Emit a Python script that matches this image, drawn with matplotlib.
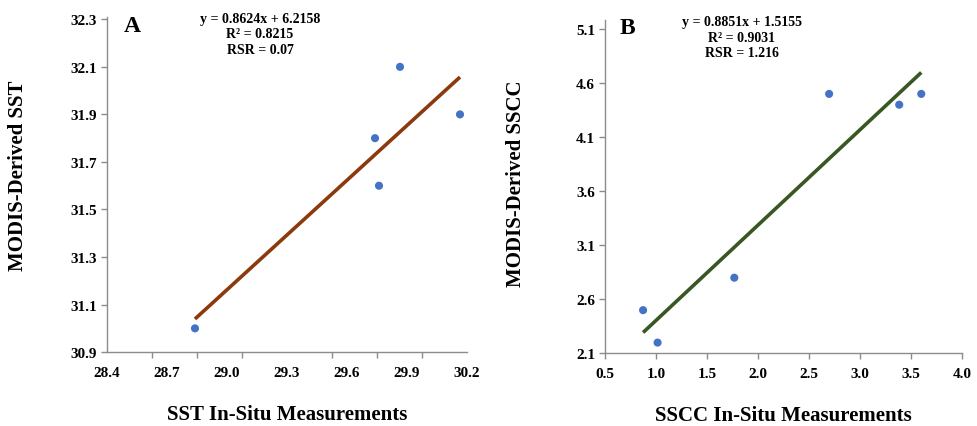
import matplotlib
matplotlib.use('Agg')
import matplotlib.pyplot as plt
import numpy as np

# Datos
sst_insitu = [28.84, 29.74, 29.76, 29.865, 30.165]
sst_modis = [31.0, 31.8, 31.6, 32.1, 31.9]
sscc_insitu = [0.875, 1.017, 1.768, 2.696, 3.382, 3.598]
sscc_modis = [2.5, 2.2, 2.8, 4.5, 4.4, 4.5]

sst_xticks = [28.4, 28.7, 29.0, 29.3, 29.6, 29.9, 30.2]
sst_yticks = [30.9, 31.1, 31.3, 31.5, 31.7, 31.9, 32.1, 32.3]
sscc_xticks = [0.5, 1.0, 1.5, 2.0, 2.5, 3.0, 3.5, 4.0]
sscc_yticks = [2.1, 2.6, 3.1, 3.6, 4.1, 4.6, 5.1]

stats_a = "y = 0.8624x + 6.2158\nR² = 0.8215\nRSR = 0.07"
stats_b = "y = 0.8851x + 1.5155\nR² = 0.9031\nRSR = 1.216"

plt.rcParams['font.family'] = ['Liberation Serif', 'DejaVu Serif']
plt.rcParams['font.weight'] = 'bold'

fig = plt.figure(figsize=(9.77, 4.27), dpi=100)
ax1 = fig.add_axes([0.1095, 0.173, 0.3685, 0.785])
ax2 = fig.add_axes([0.619, 0.170, 0.366, 0.780])

gris = '#8c8c8c'


def panel(ax, x, y, color_linea, xticks, yticks, xlab, ylab, ytop, ylab_pos, minor_x=None):
    # Línea de tendencia ajustada a los datos
    m, b = np.polyfit(x, y, 1)
    xs = np.array([min(x), max(x)])
    ax.plot(xs, m * xs + b, color=color_linea, lw=2.6, solid_capstyle='butt', zorder=2)
    ax.scatter(x, y, s=34, color='#4472C4', zorder=3, edgecolors='none')
    ax.set_xlim(xticks[0], xticks[-1])
    ax.set_ylim(yticks[0], ytop)
    ax.set_xticks(xticks)
    ax.set_yticks(yticks)
    ax.set_xticklabels([f'{v:.1f}' for v in xticks], fontsize=11, fontweight='bold')
    ax.set_yticklabels([f'{v:.1f}' for v in yticks], fontsize=11, fontweight='bold')
    for s in ['top', 'right']:
        ax.spines[s].set_visible(False)
    for s in ['left', 'bottom']:
        ax.spines[s].set_color(gris)
        ax.spines[s].set_linewidth(1.0)
    ax.tick_params(axis='both', colors=gris, labelcolor='black', length=4, width=1)
    ax.tick_params(axis='y', pad=3)
    ax.tick_params(axis='x', pad=6)
    if minor_x is not None:
        ax.set_xticks(minor_x, minor=True)
        ax.tick_params(axis='x', which='major', length=0, pad=10)
        ax.tick_params(axis='x', which='minor', length=4, width=1, color=gris)
    ax.set_xlabel(xlab, fontsize=15, fontweight='bold', labelpad=18)
    ax.set_ylabel(ylab, fontsize=15, fontweight='bold')
    ax.yaxis.set_label_coords(*ylab_pos)
    return m, b


panel(ax1, sst_insitu, sst_modis, '#8B3A0E', sst_xticks, sst_yticks,
      'SST In-Situ Measurements', 'MODIS-Derived SST', 32.31, (-0.219, 0.528),
      minor_x=np.linspace(28.4, 30.2, 9))
panel(ax2, sscc_insitu, sscc_modis, '#385723', sscc_xticks, sscc_yticks,
      'SSCC In-Situ Measurements', 'MODIS-Derived SSCC', 5.18, (-0.221, 0.512))

fig.text(124 / 977, 1 - 27 / 427, 'A', fontsize=17, fontweight='bold', ha='left', va='center')
fig.text(620 / 977, 1 - 29 / 427, 'B', fontsize=17, fontweight='bold', ha='left', va='center')
fig.text(260 / 977, 1 - 35 / 427, stats_a, fontsize=10, fontweight='bold', ha='center', va='center',
         linespacing=1.25)
fig.text(742 / 977, 1 - 38 / 427, stats_b, fontsize=10, fontweight='bold', ha='center', va='center',
         linespacing=1.25)

plt.savefig('out.png', dpi=100)
